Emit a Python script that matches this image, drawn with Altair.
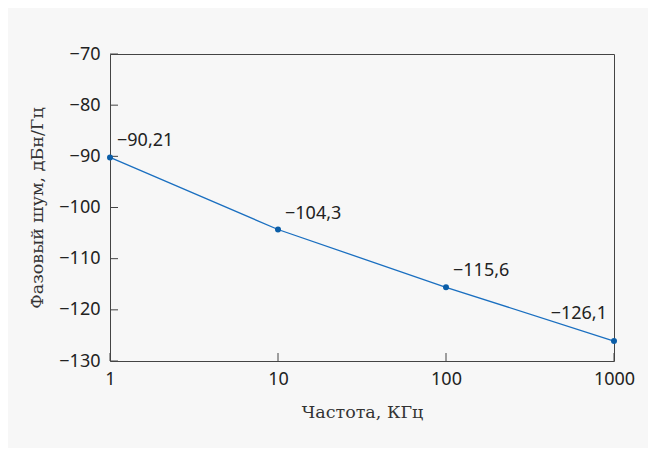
import altair as alt
import pandas as pd

freq = [1, 10, 100, 1000]
noise = [-90.21, -104.3, -115.6, -126.1]
y_ticks = [-70, -80, -90, -100, -110, -120, -130]
x_ticks = [1, 10, 100, 1000]

df = pd.DataFrame({"f": freq, "n": noise})
yt = pd.DataFrame({"v": y_ticks})
xt = pd.DataFrame({"v": x_ticks})

W, H = 504, 307
LINE = "#1a6fc0"
PT = "#0b5ea8"
SANS = "Noto Sans"
SERIF = "DejaVu Serif"
FS = 18

xs = alt.Scale(type="log", domain=[1, 1000])
ys = alt.Scale(domain=[-130, -70])

base = alt.Chart(df)

line = base.mark_line(color=LINE, strokeWidth=1.3).encode(
    x=alt.X("f:Q", scale=xs, axis=alt.Axis(
        values=x_ticks, ticks=False, domain=False, grid=False, labelPadding=9,
        labelFont=SANS, labelFontSize=FS, labelColor="#222",
        labelExpr="format(datum.value,'d')",
        title="Частота, КГц", titleFont=SERIF, titleFontSize=17.5, titleFontWeight="normal",
        titleColor="#333", titlePadding=15, labelFlush=False)),
    y=alt.Y("n:Q", scale=ys, axis=alt.Axis(
        values=y_ticks, ticks=False, domain=False, grid=False, labelPadding=10,
        labelFont=SANS, labelFontSize=FS, labelColor="#222",
        labelExpr="replace(format(datum.value,'d'),'-','−')",
        title="Фазовый шум, дБн/Гц", titleFont=SERIF, titleFontSize=17.5,
        titleFontWeight="normal", titleColor="#333", titlePadding=12)),
)

points = base.mark_circle(color=PT, size=36, opacity=1).encode(
    x=alt.X("f:Q", scale=xs), y=alt.Y("n:Q", scale=ys))

lab_expr = "replace(replace(toString(datum.n),'-','−'),'.',',')"

labels_a = base.transform_filter("datum.f < 1000").transform_calculate(
    t=lab_expr).mark_text(align="left", baseline="middle", dx=7, dy=-16,
    font=SANS, fontSize=FS, color="#222").encode(
    x=alt.X("f:Q", scale=xs), y=alt.Y("n:Q", scale=ys), text="t:N")

labels_b = base.transform_filter("datum.f >= 1000").transform_calculate(
    t=lab_expr).mark_text(align="right", baseline="middle", dx=-7, dy=-27,
    font=SANS, fontSize=FS, color="#222").encode(
    x=alt.X("f:Q", scale=xs), y=alt.Y("n:Q", scale=ys), text="t:N")

ytick = alt.Chart(yt).mark_rule(color="#444", strokeWidth=1).encode(
    y=alt.Y("v:Q", scale=ys), x=alt.value(0), x2=alt.value(8))

xtick = alt.Chart(xt).mark_rule(color="#444", strokeWidth=1).encode(
    x=alt.X("v:Q", scale=xs), y=alt.value(H), y2=alt.value(H - 8))

chart = alt.layer(line, ytick, xtick, points, labels_a, labels_b).properties(
    width=W, height=H,
    autosize=alt.AutoSizeParams(type="none"),
    padding={"left": 102, "top": 46, "right": 34, "bottom": 87},
    background="#f7f7f7",
).configure_view(stroke="#444", strokeWidth=1)

chart.save("out.html", embed_options={"renderer": "svg", "actions": False})
